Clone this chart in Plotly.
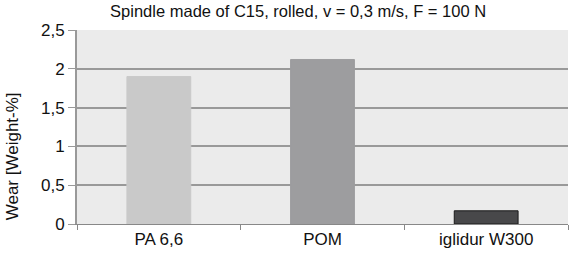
import plotly.graph_objects as go

categories = ["PA 6,6", "POM", "iglidur W300"]
wear = [1.9, 2.12, 0.17]
bar_colors = ["#c9c9c9", "#9d9d9f", "#48484a"]
line_colors = ["#c9c9c9", "#9d9d9f", "#1a1a1a"]
y_ticks = [0, 0.5, 1, 1.5, 2, 2.5]
y_tick_labels = ["0", "0,5", "1", "1,5", "2", "2,5"]

fig = go.Figure(go.Bar(
    x=categories, y=wear,
    marker=dict(color=bar_colors, line=dict(color=line_colors, width=1)),
    width=0.39,
))

fig.update_layout(
    width=570, height=257,
    margin=dict(l=77, r=2, t=30, b=33),
    paper_bgcolor="white",
    plot_bgcolor="#ebebeb",
    font=dict(family="Liberation Sans, Arial, sans-serif", size=17, color="#111"),
    title=dict(text="Spindle made of C15, rolled, v = 0,3 m/s, F = 100 N",
               x=0.523, xanchor="center", y=0.955, yanchor="middle",
               font=dict(size=16.5)),
    showlegend=False,
    xaxis=dict(showline=True, linecolor="#888", linewidth=1,
               ticks="outside", ticklen=5, tickcolor="#888",
               tickson="boundaries", showgrid=False),
    yaxis=dict(range=[0, 2.5], tickvals=y_ticks, ticktext=y_tick_labels,
               showline=True, linecolor="#999", linewidth=2,
               ticks="outside", ticklen=7, tickcolor="#999",
               gridcolor="#999", gridwidth=1.5, zeroline=False),
    annotations=[dict(text="Wear [Weight-%]", textangle=-90,
                      xref="paper", yref="paper", x=-0.132, y=0.35,
                      xanchor="center", yanchor="middle", showarrow=False,
                      font=dict(size=17))],
)

fig.write_html("out.html")
